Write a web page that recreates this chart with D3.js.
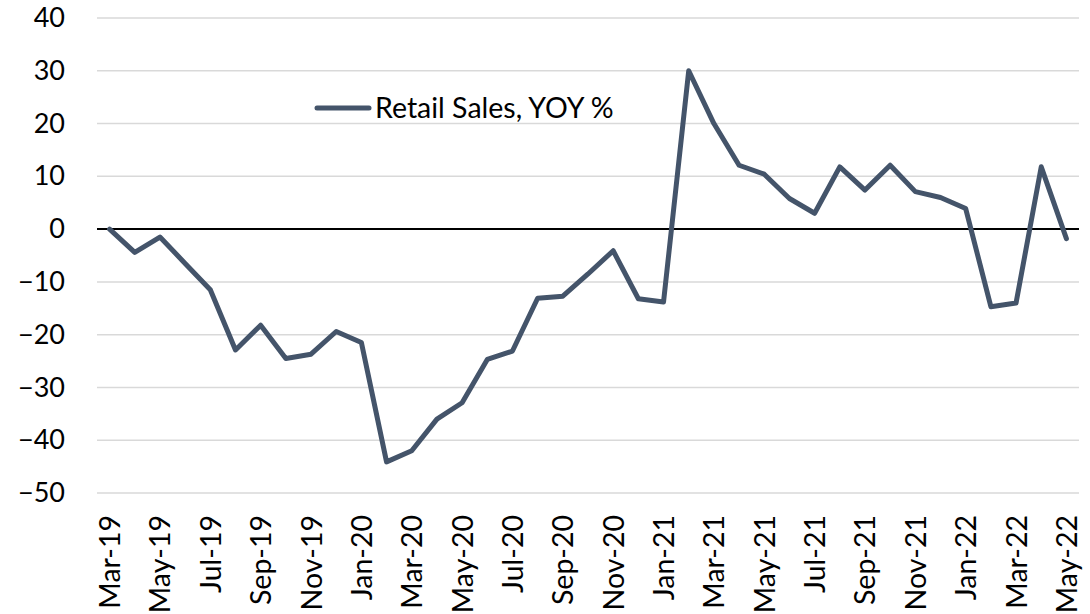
<!DOCTYPE html>
<meta charset="utf-8">
<script src="https://d3js.org/d3.v7.min.js"></script>
<style>
  body { margin: 0; background: #fff; }
  text { font-family: Lato, "Open Sans", sans-serif; fill: #000; }
</style>
<body>
<svg width="1090" height="614"></svg>
<script>
    // monthly, Mar-19 .. May-22
    var months = ['Mar-19','Apr-19','May-19','Jun-19','Jul-19','Aug-19','Sep-19','Oct-19','Nov-19','Dec-19',
                  'Jan-20','Feb-20','Mar-20','Apr-20','May-20','Jun-20','Jul-20','Aug-20','Sep-20','Oct-20','Nov-20','Dec-20',
                  'Jan-21','Feb-21','Mar-21','Apr-21','May-21','Jun-21','Jul-21','Aug-21','Sep-21','Oct-21','Nov-21','Dec-21',
                  'Jan-22','Feb-22','Mar-22','Apr-22','May-22'];
    var retailYoy = [0, -4.4, -1.5, -6.5, -11.5, -22.9, -18.2, -24.5, -23.7, -19.4,
                     -21.5, -44.1, -42.0, -36.0, -32.9, -24.7, -23.1, -13.1, -12.7, -8.5, -4.1, -13.2,
                     -13.8, 30.0, 20.0, 12.1, 10.4, 5.8, 3.0, 11.8, 7.4, 12.1, 7.1, 6.0,
                     3.9, -14.7, -14.0, 11.8, -1.8];
    var yTicks = [40, 30, 20, 10, 0, -10, -20, -30, -40, -50];
    var seriesName = 'Retail Sales, YOY %';

    var svg = d3.select('svg');
    var margin = {left: 97, right: 11, top: 18, bottom: 121};
    var w = 1090 - margin.left - margin.right, h = 614 - margin.top - margin.bottom;
    var g = svg.append('g').attr('transform', 'translate(' + margin.left + ',' + margin.top + ')');

    var x = d3.scalePoint().domain(months).range([0, w]).padding(0.5);
    var y = d3.scaleLinear().domain([-50, 40]).range([h, 0]);

    // gridlines
    g.append('g')
        .selectAll('line')
        .data(yTicks.filter(function(d){ return d !== 0; }))
        .enter().append('line')
        .attr('x1', 0).attr('x2', w)
        .attr('y1', function(d){ return y(d); })
        .attr('y2', function(d){ return y(d); })
        .attr('stroke', '#d9d9d9')
        .attr('stroke-width', 1.5);

    // y labels
    var yAxis = g.append('g')
        .call(d3.axisLeft(y).tickValues(yTicks).tickSize(0).tickPadding(32));
    yAxis.select('.domain').remove();
    yAxis.selectAll('text').style('font-size', '27px').attr('fill', '#000');

    // x labels, every other month
    var xAxis = g.append('g')
        .attr('transform', 'translate(0,' + h + ')')
        .call(d3.axisBottom(x).tickValues(months.filter(function(d, i){ return i % 2 === 0; })).tickSize(0));
    xAxis.select('.domain').remove();
    xAxis.selectAll('text')
        .style('font-size', '28.5px')
        .attr('fill', '#000')
        .attr('transform', 'rotate(-90)')
        .attr('text-anchor', 'end')
        .attr('x', -22)
        .attr('y', 0)
        .attr('dy', '0.35em');

    // zero line
    g.append('line')
        .attr('x1', 0).attr('x2', w)
        .attr('y1', y(0)).attr('y2', y(0))
        .attr('stroke', '#000')
        .attr('stroke-width', 2);

    var line = d3.line()
        .x(function(d, i){ return x(months[i]); })
        .y(function(d){ return y(d); });

    g.append('path')
        .datum(retailYoy)
        .attr('fill', 'none')
        .attr('stroke', '#44546a')
        .attr('stroke-width', 5)
        .attr('stroke-linejoin', 'round')
        .attr('stroke-linecap', 'round')
        .attr('d', line);

    // legend
    var lg = svg.append('g').attr('transform', 'translate(317,108)');
    lg.append('line')
        .attr('x1', 0).attr('x2', 52)
        .attr('stroke', '#44546a').attr('stroke-width', 5).attr('stroke-linecap', 'round');
    lg.append('text')
        .attr('x', 58).attr('dy', '0.35em')
        .style('font-size', '28.5px')
        .text(seriesName);
</script>
</body>
